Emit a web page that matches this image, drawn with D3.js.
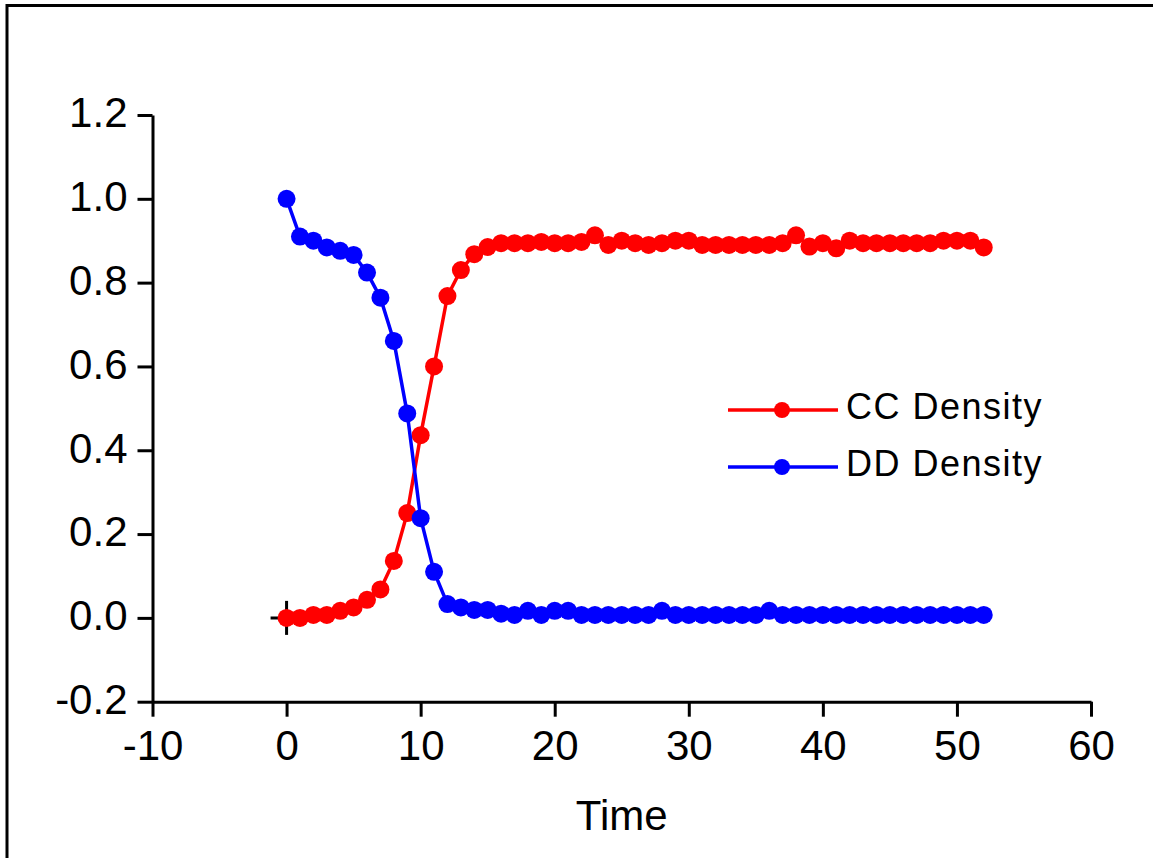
<!DOCTYPE html>
<html>
<head>
<meta charset="utf-8">
<script src="https://cdn.jsdelivr.net/npm/d3@7"></script>
<style>
  body { margin: 0; background: #fff; }
  svg { display: block; font-family: "Liberation Sans", Arial, sans-serif; }
</style>
</head>
<body>
<div id="my_dataviz"></div>
<script>
// time steps
var time = [0,1,2,3,4,5,6,7,8,9,10,11,12,13,14,15,16,17,18,19,20,21,22,23,24,25,
            26,27,28,29,30,31,32,33,34,35,36,37,38,39,40,41,42,43,44,45,46,47,48,49,50,51,52];

var ccDensity = [0,0,0.007,0.007,0.017,0.025,0.043,0.068,0.136,0.25,0.436,0.6,0.768,0.83,0.868,0.885,
                 0.894,0.894,0.894,0.897,0.894,0.894,0.897,0.913,0.89,0.9,0.894,0.89,0.894,0.9,0.9,
                 0.89,0.89,0.89,0.89,0.89,0.89,0.894,0.913,0.886,0.894,0.882,0.9,0.894,0.894,0.894,
                 0.894,0.894,0.894,0.9,0.9,0.9,0.884];

var ddDensity = [1.0,0.91,0.9,0.884,0.876,0.866,0.824,0.764,0.661,0.488,0.238,0.11,0.033,0.025,0.019,0.019,
                 0.01,0.007,0.017,0.007,0.017,0.017,0.007,0.007,0.007,0.007,0.007,0.007,0.017,0.007,0.007,
                 0.007,0.007,0.007,0.007,0.007,0.017,0.007,0.007,0.007,0.007,0.007,0.007,0.007,0.007,0.007,
                 0.007,0.007,0.007,0.007,0.007,0.007,0.007];

var xTicks = [-10,0,10,20,30,40,50,60];
var yTicks = [-0.2,0.0,0.2,0.4,0.6,0.8,1.0,1.2];

var W = 1153, H = 858;

var svg = d3.select("#my_dataviz")
  .append("svg")
    .attr("width", W)
    .attr("height", H);

// outer frame (runs off the right and bottom edges)
svg.append("rect")
  .attr("x", 7)
  .attr("y", 5.5)
  .attr("width", 1300)
  .attr("height", 1000)
  .attr("fill", "none")
  .attr("stroke", "#000")
  .attr("stroke-width", 3);

var x = d3.scaleLinear()
  .domain([-10, 60])
  .range([152.5, 1091]);

var y = d3.scaleLinear()
  .domain([-0.2, 1.2])
  .range([701.7, 115]);

// plain hyphen for negatives, like the original
function hyphen(f) {
  return function(d) { return f(d).replace("\u2212", "-"); };
}

var xAxis = svg.append("g")
  .attr("transform", "translate(0," + y(-0.2) + ")")
  .call(d3.axisBottom(x).tickValues(xTicks).tickSize(15).tickSizeOuter(0).tickPadding(13)
        .tickFormat(hyphen(d3.format("d"))));

var yAxis = svg.append("g")
  .attr("transform", "translate(" + x(-10) + ",0)")
  .call(d3.axisLeft(y).tickValues(yTicks).tickSize(15).tickSizeOuter(0).tickPadding(10)
        .tickFormat(hyphen(d3.format(".1f"))));

[xAxis, yAxis].forEach(function(g) {
  g.selectAll("path, line").attr("stroke", "#000").attr("stroke-width", 3);
  g.selectAll("text")
    .attr("fill", "#000")
    .style("font-size", "42px")
    .style("font-family", "'Liberation Sans', Arial, sans-serif");
});
yAxis.selectAll("text").attr("dy", "0.28em");
xAxis.selectAll("text").attr("dy", "0.72em");

svg.append("text")
  .attr("x", (x(-10) + x(60)) / 2)
  .attr("y", 830)
  .attr("text-anchor", "middle")
  .style("font-size", "42px")
  .text("Time");

// little cross at the origin
svg.append("line")
  .attr("x1", x(0) - 16).attr("x2", x(0) + 16)
  .attr("y1", y(0)).attr("y2", y(0))
  .attr("stroke", "#000").attr("stroke-width", 3);
svg.append("line")
  .attr("x1", x(0)).attr("x2", x(0))
  .attr("y1", y(0) - 17).attr("y2", y(0) + 17)
  .attr("stroke", "#000").attr("stroke-width", 3);

var series = [
  {name: "CC Density", color: "#ff0000", values: ccDensity},
  {name: "DD Density", color: "#0000ff", values: ddDensity}
];

var line = d3.line()
  .x(function(d) { return x(d[0]); })
  .y(function(d) { return y(d[1]); });

series.forEach(function(s) {
  var pts = time.map(function(t, i) { return [t, s.values[i]]; });
  svg.append("path")
    .datum(pts)
    .attr("fill", "none")
    .attr("stroke", s.color)
    .attr("stroke-width", 3.5)
    .attr("d", line);
  svg.selectAll("dot")
    .data(pts)
    .enter()
    .append("circle")
      .attr("cx", function(d) { return x(d[0]); })
      .attr("cy", function(d) { return y(d[1]); })
      .attr("r", 9)
      .attr("fill", s.color);
});

// legend
var legend = svg.append("g");
series.forEach(function(s, i) {
  var ly = 410 + i * 57;
  legend.append("line")
    .attr("x1", 728).attr("x2", 838)
    .attr("y1", ly).attr("y2", ly)
    .attr("stroke", s.color).attr("stroke-width", 3.5);
  legend.append("circle")
    .attr("cx", 782).attr("cy", ly)
    .attr("r", 8)
    .attr("fill", s.color);
  legend.append("text")
    .attr("x", 846)
    .attr("y", ly + 9)
    .style("font-size", "36px")
    .style("letter-spacing", "1.5px")
    .text(s.name);
});
</script>
</body>
</html>
